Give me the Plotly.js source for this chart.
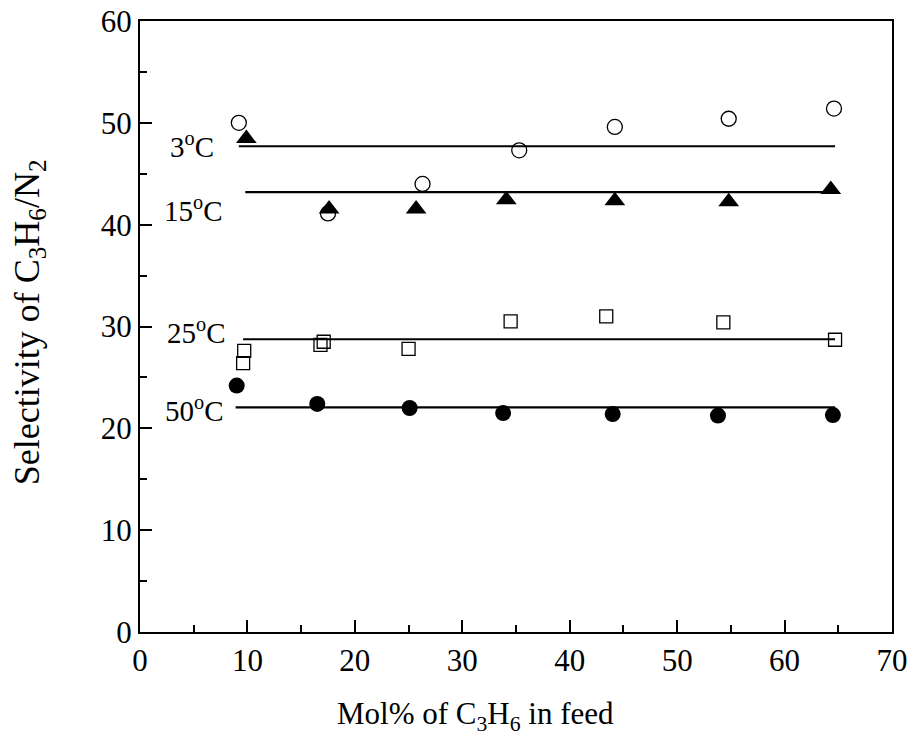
<!DOCTYPE html>
<html>
<head>
<meta charset="utf-8">
<script src="https://cdn.plot.ly/plotly-3.0.1.min.js"></script>
<style>html,body{margin:0;padding:0;background:#fff;}#chart{width:909px;height:751px;}</style>
</head>
<body>
<div id="chart"></div>
<script>
// 3 °C (open circles)
const x3 = [9.2, 17.5, 26.3, 35.3, 44.2, 54.8, 64.6];
const y3 = [50.0, 41.1, 44.0, 47.3, 49.6, 50.4, 51.4];
// 15 °C (filled triangles)
const x15 = [9.9, 17.6, 25.7, 34.1, 44.2, 54.8, 64.3];
const y15 = [48.45, 41.55, 41.55, 42.45, 42.35, 42.25, 43.45];
// 25 °C (open squares)
const x25 = [9.7, 9.6, 16.8, 17.1, 25.0, 34.5, 43.4, 54.3, 64.7];
const y25 = [27.6, 26.4, 28.2, 28.5, 27.8, 30.5, 31.0, 30.4, 28.7];
// 50 °C (filled circles)
const x50 = [9.0, 16.5, 25.1, 33.8, 44.0, 53.8, 64.5];
const y50 = [24.2, 22.4, 22.0, 21.5, 21.4, 21.25, 21.3];
// average lines
const lineX3 = [9.2, 64.7], lineY3 = [47.7, 47.7];
const lineX15 = [9.8, 64.7], lineY15 = [43.2, 43.2];
const lineX25 = [9.6, 64.7], lineY25 = [28.75, 28.75];
const lineX50 = [8.9, 64.7], lineY50 = [22.05, 22.05];
// labels
const labelText = ['3<sup>o</sup>C', '15<sup>o</sup>C', '25<sup>o</sup>C', '50<sup>o</sup>C'];
const labelX = [4.8, 4.9, 5.2, 5.0];
const labelY = [47.8, 41.55, 29.6, 21.9];
const xTitle = 'Mol% of C<sub>3</sub>H<sub>6</sub> in feed';
const yTitle = 'Selectivity of C<sub>3</sub>H<sub>6</sub>/N<sub>2</sub>';

const FONT = 'Liberation Serif, Times New Roman, serif';
const lineStyle = {color: '#000', width: 2.2};

const traces = [
  {x: lineX3, y: lineY3, mode: 'lines', line: lineStyle, hoverinfo: 'skip'},
  {x: lineX15, y: lineY15, mode: 'lines', line: lineStyle, hoverinfo: 'skip'},
  {x: lineX25, y: lineY25, mode: 'lines', line: lineStyle, hoverinfo: 'skip'},
  {x: lineX50, y: lineY50, mode: 'lines', line: lineStyle, hoverinfo: 'skip'},
  {x: x3, y: y3, mode: 'markers', marker: {symbol: 'circle-open', size: 15, color: '#000', line: {width: 1.3, color: '#000'}}},
  {x: x15, y: y15, mode: 'markers', marker: {symbol: 'triangle-up', size: 18, color: '#000', line: {width: 0}}},
  {x: x25, y: y25, mode: 'markers', marker: {symbol: 'square-open', size: 13, color: '#000', line: {width: 1.3, color: '#000'}}},
  {x: x50, y: y50, mode: 'markers', marker: {symbol: 'circle', size: 16, color: '#000', line: {width: 0}}}
];

const axisCommon = {
  showline: true, linecolor: '#000', linewidth: 2, mirror: true,
  ticks: 'inside', ticklen: 12, tickwidth: 2, tickcolor: '#000',
  showgrid: false, zeroline: false,
  tickfont: {family: FONT, size: 31, color: '#000'}
};

const annots = labelText.map((t, i) => ({
  x: labelX[i], y: labelY[i], xref: 'x', yref: 'y', text: t, showarrow: false,
  font: {family: FONT, size: 29, color: '#000'}, xanchor: 'center', yanchor: 'middle'
}));
annots.push({
  x: 0.4455, y: -0.1375, xref: 'paper', yref: 'paper', text: xTitle, showarrow: false,
  font: {family: FONT, size: 31, color: '#000'}, xanchor: 'center', yanchor: 'middle'
});
annots.push({
  x: -0.1476, y: 0.507, xref: 'paper', yref: 'paper', text: yTitle, showarrow: false, textangle: -90,
  font: {family: FONT, size: 36, color: '#000'}, xanchor: 'center', yanchor: 'middle'
});

const layout = {
  width: 909, height: 751,
  margin: {l: 140, r: 17, t: 21, b: 119},
  paper_bgcolor: '#fff', plot_bgcolor: '#fff',
  showlegend: false,
  font: {family: FONT, color: '#000'},
  xaxis: Object.assign({}, axisCommon, {
    range: [0, 70], dtick: 10, tick0: 0,
    minor: {dtick: 5, ticks: 'inside', ticklen: 7, tickwidth: 2, tickcolor: '#000'}
  }),
  yaxis: Object.assign({}, axisCommon, {
    range: [0, 60], dtick: 10, tick0: 0,
    minor: {dtick: 5, ticks: 'inside', ticklen: 7, tickwidth: 2, tickcolor: '#000'}
  }),
  annotations: annots
};

Plotly.newPlot('chart', traces, layout, {displayModeBar: false, staticPlot: true});
</script>
</body>
</html>
